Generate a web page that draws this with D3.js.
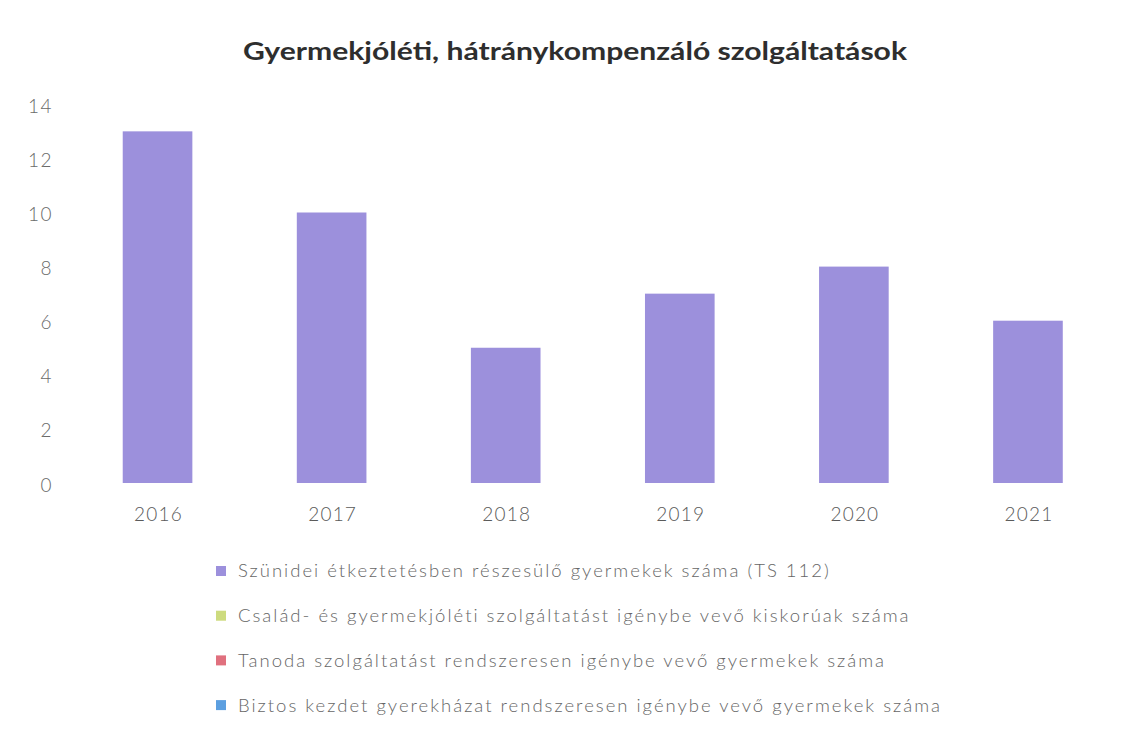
<!DOCTYPE html>
<html>
<head>
<meta charset="utf-8">
<script src="https://cdn.jsdelivr.net/npm/d3@7"></script>
<style>
  body { margin: 0; background: #fff; }
  svg { display: block; }
</style>
</head>
<body>
<div class="Canvas"></div>
<script>
const title = 'Gyermekjóléti, hátránykompenzáló szolgáltatások';
const years = ['2016', '2017', '2018', '2019', '2020', '2021'];
const seriesNames = [
  'Szünidei étkeztetésben részesülő gyermekek száma (TS 112)',
  'Család- és gyermekjóléti szolgáltatást igénybe vevő kiskorúak száma',
  'Tanoda szolgáltatást rendszeresen igénybe vevő gyermekek száma',
  'Biztos kezdet gyerekházat rendszeresen igénybe vevő gyermekek száma'
];
const seriesColors = ['#9c90dc', '#cddb7e', '#e0707e', '#5c9fe0'];
const szunideiValues = [13, 10, 5, 7, 8, 6];
const yTicks = [0, 2, 4, 6, 8, 10, 12, 14];

const width = 1134;
const height = 734;
const font = 'Lato, "Open Sans", sans-serif';

const svg = d3.select('.Canvas').append('svg')
  .attr('width', width)
  .attr('height', height);

const x = d3.scaleBand().domain(years).range([70.5, 1115]).paddingInner(0.6).paddingOuter(0.3);
const y = d3.scaleLinear().domain([0, 14]).range([483, 104.3]);

// title, stretched to the width it has in the picture
svg.append('text')
  .attr('x', 575)
  .attr('y', 60)
  .attr('text-anchor', 'middle')
  .attr('font-family', font)
  .attr('font-weight', 'bold')
  .attr('font-size', '24px')
  .attr('fill', '#2e2e2e')
  .attr('textLength', 664)
  .attr('lengthAdjust', 'spacingAndGlyphs')
  .text(title);

// y axis labels
const yAxis = d3.axisLeft(y).tickValues(yTicks).tickSize(0).tickPadding(0);
const yg = svg.append('g').attr('transform', 'translate(53,2)').call(yAxis);
yg.select('.domain').remove();
yg.selectAll('text')
  .attr('font-family', font)
  .attr('font-size', '19px')
  .attr('font-weight', 300)
  .attr('letter-spacing', '1.5px')
  .attr('fill', '#6a6a6a');

// bars
svg.append('g')
  .selectAll('rect')
  .data(szunideiValues)
  .enter()
  .append('rect')
  .attr('x', (d, i) => x(years[i]))
  .attr('width', x.bandwidth())
  .attr('y', (d) => y(d))
  .attr('height', (d) => y(0) - y(d))
  .attr('fill', seriesColors[0]);

// x axis labels
const xAxis = d3.axisBottom(x).tickSize(0).tickPadding(0);
const xg = svg.append('g').attr('transform', 'translate(1,507)').call(xAxis);
xg.select('.domain').remove();
xg.selectAll('text')
  .attr('font-family', font)
  .attr('font-size', '19px')
  .attr('font-weight', 300)
  .attr('letter-spacing', '1.2px')
  .attr('fill', '#5a5a5a');

// legend
const legend = svg.append('g')
  .selectAll('g')
  .data(seriesNames)
  .enter()
  .append('g')
  .attr('transform', (d, i) => `translate(216, ${571 + i * 44.7})`);
legend.append('rect')
  .attr('x', 0)
  .attr('y', -5)
  .attr('width', 10)
  .attr('height', 10)
  .attr('fill', (d, i) => seriesColors[i]);
legend.append('text')
  .attr('x', 22)
  .attr('y', 0)
  .attr('dy', '0.35em')
  .attr('font-family', font)
  .attr('font-size', '18.5px')
  .attr('font-weight', 300)
  .attr('letter-spacing', '2px')
  .attr('fill', '#666')
  .text((d) => d);
</script>
</body>
</html>
